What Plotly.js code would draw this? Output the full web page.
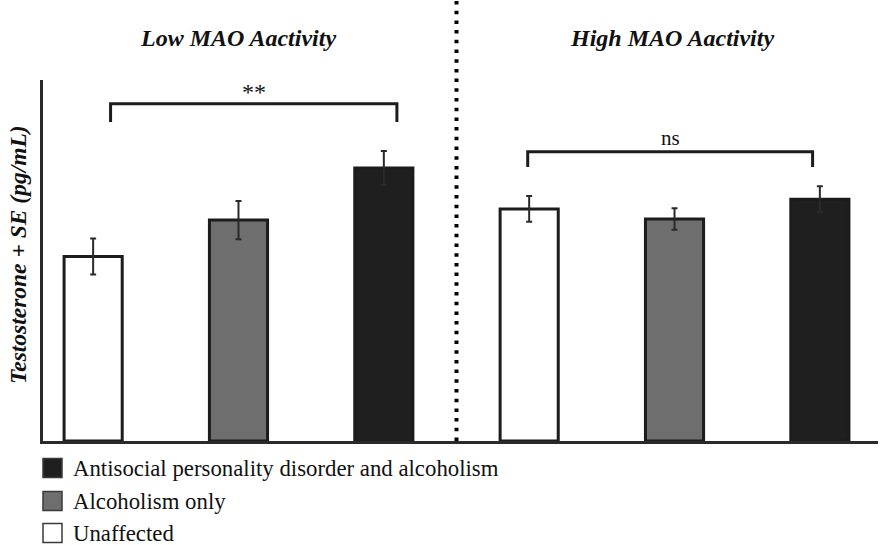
<!DOCTYPE html>
<html>
<head>
<meta charset="utf-8">
<script src="https://cdn.plot.ly/plotly-3.0.1.min.js"></script>
<style>
  html, body { margin: 0; padding: 0; background: #ffffff; }
  #chart { width: 881px; height: 545px; }
  #chart text { font-family: "Liberation Serif", serif !important; }
</style>
</head>
<body>
<div id="chart"></div>
<script>
// Testosterone by MAO activity group and diagnosis (arbitrary units, no scale printed)
const groups = ["Low MAO Aactivity", "High MAO Aactivity"];
const seriesNames = ["Unaffected", "Alcoholism only", "Antisocial personality disorder and alcoholism"];
const unaffected = [51.1, 64.3];
const alcoholismOnly = [61.2, 61.5];
const aspdAlcoholism = [75.6, 67.0];
const unaffectedSE = [5.0, 3.6];
const alcoholismOnlySE = [5.3, 3.0];
const aspdAlcoholismSE = [4.7, 3.6];
const significance = ["**", "ns"];

// layout geometry (pixels)
const W = 881, H = 545;
const M = { l: 43, r: 3, t: 80, b: 104 };
const plotW = W - M.l - M.r, plotH = H - M.t - M.b;
const px = x => (x - M.l) / plotW;          // pixel x -> paper x
const py = y => (H - M.b - y) / plotH;      // pixel y -> paper y

const serifFace = "Liberation Serif";
const ink = "#1c1c1c";

// each group has 3 slots: Unaffected, Alcoholism only, ASPD + alcoholism
const slot = (g, k) => g * 3 + k;
const values = [unaffected, alcoholismOnly, aspdAlcoholism];
const errors = [unaffectedSE, alcoholismOnlySE, aspdAlcoholismSE];
const fills = ["#ffffff", "#6e6e6e", "#1f1f1f"];

const traces = values.map((vals, k) => ({
  type: "bar",
  name: seriesNames[k],
  x: groups.map((_, g) => slot(g, k)),
  y: vals,
  width: 0.40,
  marker: { color: fills[k], line: { color: ink, width: 3 } },
  error_y: { type: "data", array: errors[k], visible: true, color: "#2a2a2a", thickness: 2, width: 3 },
  showlegend: false,
  hoverinfo: "skip"
}));

// significance brackets in data coordinates
const brackets = [
  { x0: 0.12, x1: 2.09, top: 93.4, foot: 88.4 },
  { x0: 2.99, x1: 4.95, top: 80.1, foot: 75.9 }
];

const shapes = [];
brackets.forEach(b => {
  shapes.push({
    type: "path", xref: "x", yref: "y",
    path: `M ${b.x0} ${b.foot} L ${b.x0} ${b.top} L ${b.x1} ${b.top} L ${b.x1} ${b.foot}`,
    line: { color: ink, width: 3 }
  });
});

// dotted divider between the two MAO groups
shapes.push({
  type: "line", xref: "x", yref: "paper",
  x0: 2.5, x1: 2.5, y0: 0, y1: py(0),
  line: { color: "#000000", width: 4, dash: "3.5px,6.2px" }
});

const annotations = [];
const headFont = { family: serifFace, size: 24, color: "#111" };
// group headings
annotations.push(
  { xref: "paper", yref: "paper", x: px(238), y: py(38), text: "<b><i>" + groups[0] + "</i></b>",
    showarrow: false, font: headFont, xanchor: "center", yanchor: "middle" },
  { xref: "paper", yref: "paper", x: px(672), y: py(38), text: "<b><i>" + groups[1] + "</i></b>",
    showarrow: false, font: headFont, xanchor: "center", yanchor: "middle" }
);
// significance labels
brackets.forEach((b, i) => {
  annotations.push({
    xref: "x", yref: "y", x: (b.x0 + b.x1) / 2, y: b.top, yshift: i === 0 ? -3 : 0,
    text: significance[i], showarrow: false, yanchor: "bottom",
    font: { family: serifFace, size: i === 0 ? 24 : 21, color: "#111" }
  });
});
// y-axis title
annotations.push({
  xref: "paper", yref: "paper", x: px(18), y: py(255), textangle: -90,
  text: "<b><i>Testosterone + SE (pg/mL)</i></b>", showarrow: false,
  xanchor: "center", yanchor: "middle",
  font: { family: serifFace, size: 23.5, color: "#111" }
});

// legend, listed top to bottom from the darkest series
const legendRows = [2, 1, 0];
const rowY = [468, 501, 533];
legendRows.forEach((k, r) => {
  shapes.push({
    type: "rect", xref: "paper", yref: "paper",
    x0: px(43), x1: px(62), y0: py(rowY[r] + 9.5), y1: py(rowY[r] - 9.5),
    fillcolor: fills[k], line: { color: "#3a3a3a", width: 1.5 }
  });
  annotations.push({
    xref: "paper", yref: "paper", x: px(71), y: py(rowY[r]),
    text: seriesNames[k], showarrow: false, xanchor: "left", yanchor: "middle",
    font: { family: serifFace, size: 22.8, color: "#111" }
  });
});

const layout = {
  width: W, height: H,
  margin: M,
  font: { family: serifFace },
  paper_bgcolor: "#ffffff", plot_bgcolor: "#ffffff",
  barmode: "overlay",
  xaxis: {
    range: [-0.345, 5.4], showticklabels: false, ticks: "", showgrid: false, zeroline: false,
    showline: true, linecolor: "#2a2a2a", linewidth: 3, fixedrange: true
  },
  yaxis: {
    range: [0, 100], showticklabels: false, ticks: "", showgrid: false, zeroline: false,
    showline: true, linecolor: "#2a2a2a", linewidth: 3, fixedrange: true
  },
  shapes: shapes,
  annotations: annotations,
  showlegend: false
};

Plotly.newPlot("chart", traces, layout, { displayModeBar: false, staticPlot: true });
</script>
</body>
</html>
